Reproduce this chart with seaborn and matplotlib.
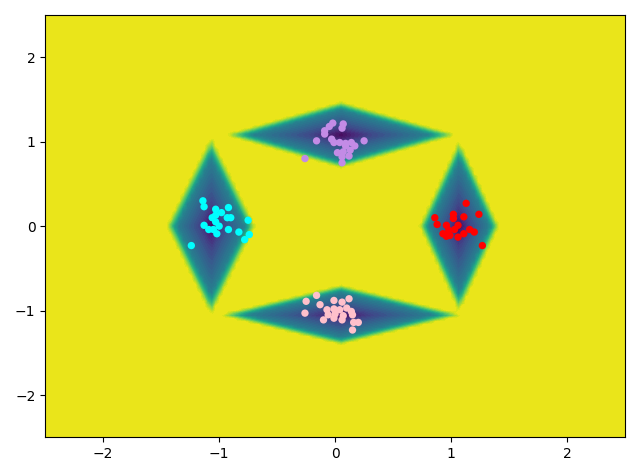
import numpy as np
import pandas as pd
import matplotlib
matplotlib.use("Agg")
import matplotlib.pyplot as plt
import seaborn as sns

# cluster points
top_x = [-0.02, 0.07, -0.05, 0.06, -0.09, -0.09, -0.16, -0.03, -0.01, 0.04, 0.09,
         0.14, 0.25, 0.09, 0.17, 0.02, 0.07, 0.13, 0.12, 0.06, 0.06, -0.26]
top_y = [1.22, 1.21, 1.18, 1.16, 1.13, 1.09, 1.01, 1.03, 0.99, 0.99, 0.98,
         0.99, 1.01, 0.95, 0.95, 0.87, 0.88, 0.90, 0.83, 0.82, 0.75, 0.80]

bottom_x = [-0.16, -0.25, 0.12, -0.01, 0.06, -0.13, -0.26, -0.07, -0.01, 0.04, 0.10,
            0.14, -0.06, 0.00, 0.07, 0.15, -0.10, -0.01, 0.06, 0.16, 0.20, 0.15]
bottom_y = [-0.82, -0.89, -0.86, -0.88, -0.90, -0.93, -1.03, -0.99, -0.98, -0.99, -0.97,
            -1.01, -1.05, -1.04, -1.06, -1.05, -1.11, -1.09, -1.11, -1.14, -1.14, -1.23]

left_x = [-1.14, -1.13, -0.92, -1.03, -0.98, -1.03, -1.06, -0.93, -0.90, -0.75, -1.03,
          -1.13, -1.00, -1.09, -1.05, -0.92, -0.83, -1.02, -0.74, -0.78, -1.24]
left_y = [0.30, 0.23, 0.22, 0.20, 0.16, 0.13, 0.10, 0.10, 0.10, 0.07, 0.05,
          0.01, 0.00, -0.04, -0.04, -0.04, -0.07, -0.09, -0.10, -0.16, -0.23]

right_x = [1.13, 1.24, 0.86, 1.02, 1.02, 1.11, 0.88, 0.96, 1.06, 1.03, 0.98,
           1.16, 1.20, 0.93, 0.99, 1.11, 0.96, 1.06, 1.27]
right_y = [0.27, 0.14, 0.10, 0.14, 0.09, 0.11, 0.02, 0.01, 0.01, -0.04, -0.05,
           -0.04, -0.07, -0.09, -0.11, -0.09, -0.12, -0.13, -0.23]

cluster_colors = ["#c38be6", "pink", "cyan", "red"]

# diamond-shaped regions behind each cluster: centre and half widths
region_cx = [0.05, 0.05, -1.07, 1.07]
region_cy = [1.08, -1.05, 0.0, 0.0]
region_ax = [1.03, 1.08, 0.39, 0.35]
region_ay = [0.40, 0.36, 1.08, 1.04]
# how the shade climbs from the centre (0) to the rim (1)
ramp_d = [0, 0.3, 0.78, 1.0]
ramp_z = [0, 0.22, 0.45, 1.0]

xs = np.linspace(-2.5, 2.5, 140)
ys = np.linspace(-2.5, 2.5, 140)
X, Y = np.meshgrid(xs, ys)
D = np.full(X.shape, np.inf)
for cx, cy, ax_, ay_ in zip(region_cx, region_cy, region_ax, region_ay):
    D = np.minimum(D, np.abs(X - cx) / ax_ + np.abs(Y - cy) / ay_)
Z = np.interp(D, ramp_d, ramp_z)

df = pd.concat([
    pd.DataFrame({"x": top_x, "y": top_y, "c": "top"}),
    pd.DataFrame({"x": bottom_x, "y": bottom_y, "c": "bottom"}),
    pd.DataFrame({"x": left_x, "y": left_y, "c": "left"}),
    pd.DataFrame({"x": right_x, "y": right_y, "c": "right"}),
])

fig, ax = plt.subplots(figsize=(6.4, 4.76), dpi=100)
ax.contourf(X, Y, Z, levels=40, cmap="viridis", vmin=0, vmax=1.02)
sns.scatterplot(data=df, x="x", y="y", hue="c", palette=cluster_colors,
                s=28, linewidth=0, legend=False, ax=ax)
ax.set_xlim(-2.5, 2.5)
ax.set_ylim(-2.5, 2.5)
ax.set_xlabel("")
ax.set_ylabel("")
plt.tight_layout()
plt.savefig("out.png")
